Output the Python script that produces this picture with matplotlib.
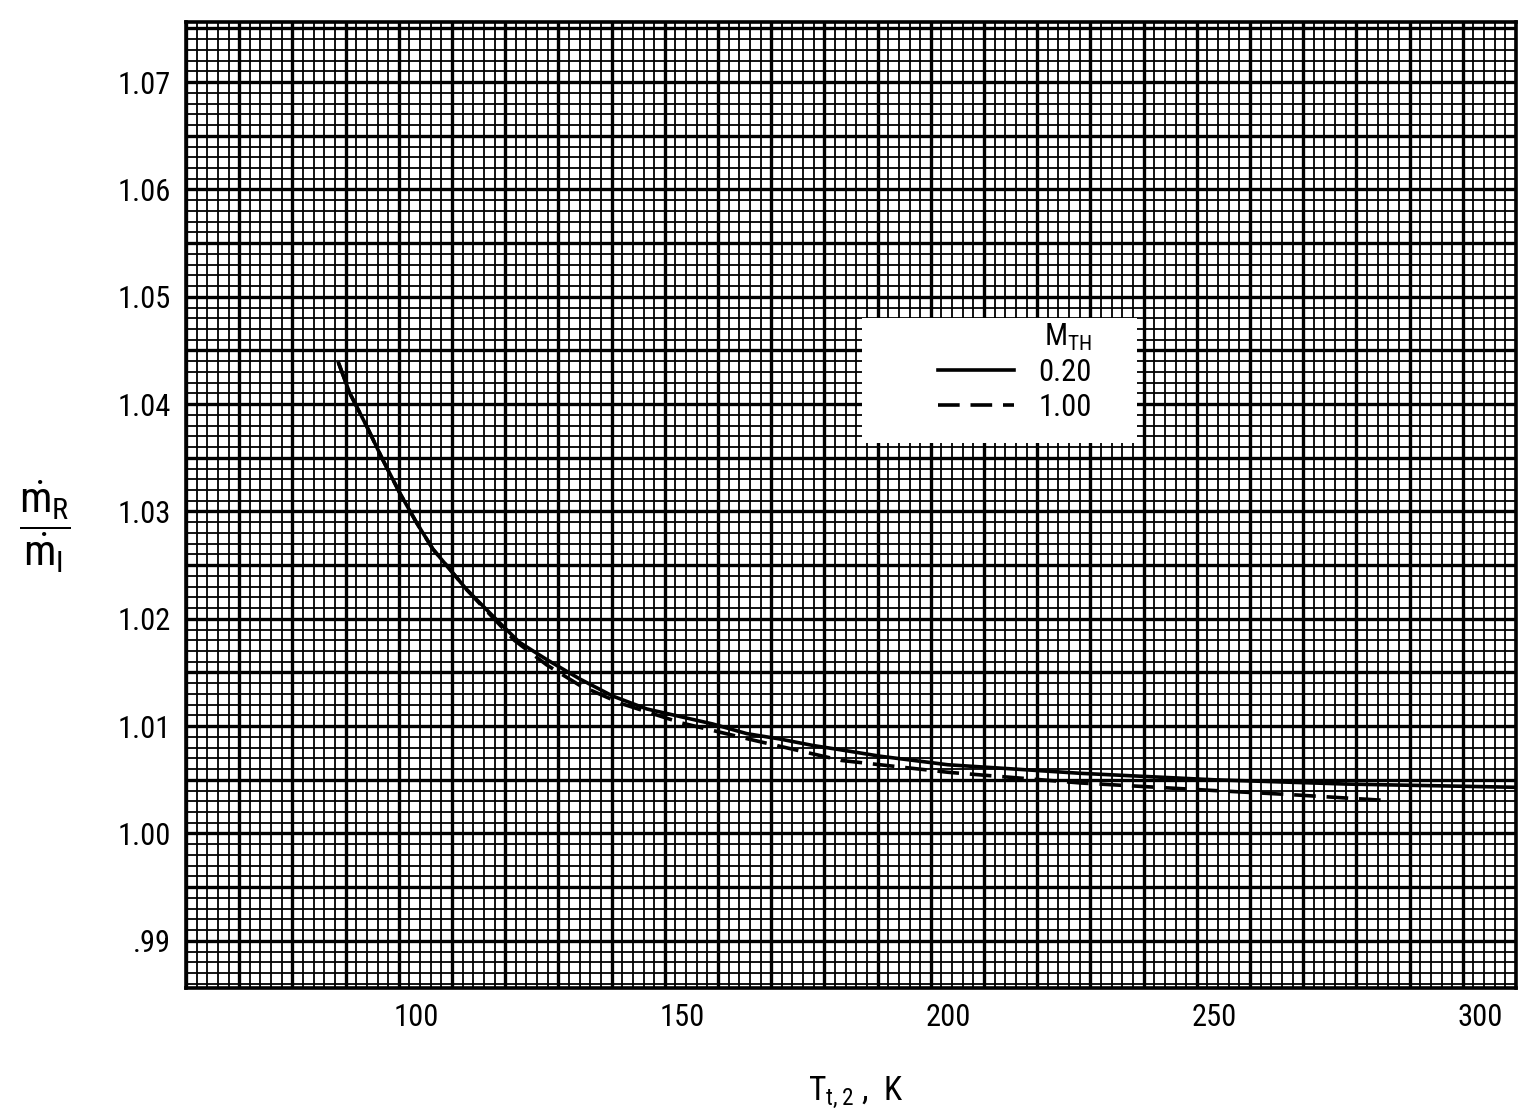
import numpy as np
import matplotlib
matplotlib.use('Agg')
import matplotlib.pyplot as plt
from matplotlib import font_manager
from matplotlib.patches import Rectangle

# the typed labels of the original are narrow: take a condensed face if one is installed
fam, stretch = 'DejaVu Sans', 'normal'
for f in font_manager.fontManager.ttflist:
    if f.name in ('Liberation Sans Narrow', 'Roboto Condensed', 'Open Sans Condensed'):
        fam, stretch = f.name, 'normal'
        break
    if f.name == 'DejaVu Sans' and str(f.stretch) in ('condensed', 'semi-condensed'):
        stretch = 'condensed'
plt.rcParams['font.family'] = [fam, 'DejaVu Sans']
plt.rcParams['font.stretch'] = stretch
plt.rcParams['mathtext.default'] = 'regular'
fs = 22

# curve M_TH = 0.20 (solid)
t_020 = [85.5, 87.6, 90.8, 93.8, 97.0, 100.2, 103.2, 106.4, 109.6, 112.6, 115.8,
         119.5, 124.6, 130.8, 137.0, 143.4, 149.6, 155.8, 162.2, 168.4, 174.6,
         181.0, 187.2, 200.0, 225.0, 250.0, 275.0, 306.8]
r_020 = [1.0438, 1.0410, 1.0379, 1.0348, 1.0317, 1.0289, 1.0265, 1.0246, 1.0227,
         1.0212, 1.0196, 1.0178, 1.0162, 1.0144, 1.0128, 1.0116, 1.0109, 1.0102,
         1.0093, 1.0088, 1.0082, 1.0077, 1.0072, 1.0064, 1.0056, 1.0050, 1.0046,
         1.0043]

# curve M_TH = 1.00 (dashed)
t_100 = [85.5, 87.6, 90.8, 93.8, 97.0, 100.2, 103.2, 106.4, 109.6, 112.6, 118.5,
         124.6, 130.8, 138.6, 149.9, 162.5, 180.0, 200.0, 225.0, 250.0, 265.0, 281.5]
r_100 = [1.0438, 1.0410, 1.0379, 1.0348, 1.0317, 1.0289, 1.0265, 1.0246, 1.0227,
         1.0211, 1.0180, 1.0157, 1.0138, 1.0121, 1.0103, 1.0088, 1.0068, 1.0057,
         1.0047, 1.0040, 1.0036, 1.0031]

x_ticks = [100, 150, 200, 250, 300]
y_ticks = [0.99, 1.00, 1.01, 1.02, 1.03, 1.04, 1.05, 1.06, 1.07]
y_labels = ['.99', '1.00', '1.01', '1.02', '1.03', '1.04', '1.05', '1.06', '1.07']
leg_labels = ['0.20', '1.00']

xmin, xmax = 56.8, 306.8
ymin, ymax = 0.9856, 1.0756

W, H = 1521, 1110
fig = plt.figure(figsize=(W / 100, H / 100), dpi=100)
ax = fig.add_axes([186 / W, 1 - 988 / H, 1330 / W, 966 / H])

# graph paper: fine lines every 2 K / 0.001, heavy lines every 10 K / 0.005
gx_minor = np.arange(xmin, xmax + 0.01, 2.0)
gx_major = np.arange(xmin, xmax + 0.01, 10.0)
gy_minor = np.arange(0.986, ymax, 0.001)
gy_major = np.arange(0.990, ymax, 0.005)
ax.vlines(gx_minor, ymin, ymax, color='black', lw=1.3, zorder=1)
ax.hlines(gy_minor, xmin, xmax, color='black', lw=1.3, zorder=1)
ax.vlines(gx_major, ymin, ymax, color='black', lw=2.4, zorder=1)
ax.hlines(gy_major, xmin, xmax, color='black', lw=2.4, zorder=1)

ax.plot(t_020, r_020, color='black', lw=2.6, zorder=4, label=leg_labels[0])
ax.plot(t_100, r_100, color='black', lw=2.6, ls=(0, (6, 3)), zorder=4,
        label=leg_labels[1])

ax.set_xlim(xmin, xmax)
ax.set_ylim(ymin, ymax)
ax.set_xticks(x_ticks)
ax.set_xticklabels([str(v) for v in x_ticks])
ax.set_yticks(y_ticks)
ax.set_yticklabels(y_labels)
ax.tick_params(length=0, labelsize=fs, pad=11)
for s in ax.spines.values():
    s.set_linewidth(2.6)
    s.set_zorder(5)

ax.set_ylabel(r'$\dfrac{\dot{m}_R}{\dot{m}_I}$', rotation=0, fontsize=31,
              ha='center', va='center')
ax.yaxis.set_label_coords(-0.106, 0.477)
ax.set_xlabel(r'$T_{t,2}$ ,  K', fontsize=24, ha='center', va='center')
ax.xaxis.set_label_coords(0.504, -0.108)

# white patch pasted on the paper for the key
ax.add_patch(Rectangle((0.5083, 0.5642), 0.2068, 0.1294, transform=ax.transAxes,
                       facecolor='white', edgecolor='none', zorder=6))
leg = ax.legend(title=r'$M_{TH}$', loc='upper right',
                bbox_to_anchor=(0.6812, 0.690), frameon=False, fontsize=fs,
                title_fontsize=fs, alignment='right', borderpad=0,
                borderaxespad=0, handlelength=2.5, handletextpad=0.8,
                labelspacing=0.18)
leg.set_zorder(7)

fig.savefig('out.png', dpi=100, facecolor='white')
